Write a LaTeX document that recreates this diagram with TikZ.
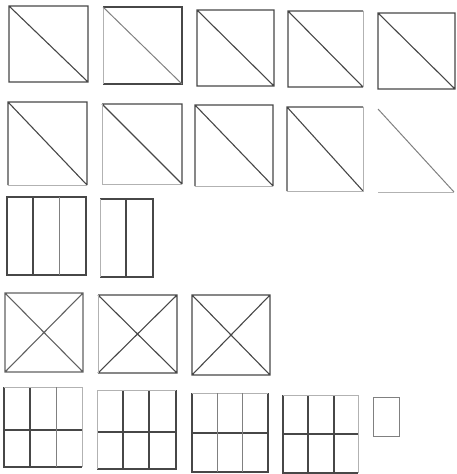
\documentclass[tikz,border=0pt]{standalone}
\begin{document}
\begin{tikzpicture}[x=1pt,y=-1pt,
  dk/.style={draw=black!72,line width=1.1pt},
  lt/.style={draw=black!30,line width=1pt},
  md/.style={draw=black!50,line width=1pt}]
\useasboundingbox (0,0) rectangle (456,474);
% Row 1
\draw[dk] (9,6) rectangle (88,82) (9,6) -- (88,82);
\draw[dk] (103,7) -- (182,7) -- (182,84) -- (103,84);
\draw[lt] (103,7) -- (103,84);
\draw[md] (103,7) -- (182,84);
\draw[dk] (197,10) rectangle (274,86) (197,10) -- (274,86);
\draw[dk] (363,11) -- (288,11) -- (288,87) -- (363,87) (288,11) -- (363,87);
\draw[lt] (363,11) -- (363,87);
\draw[dk] (378,13) rectangle (455,89) (378,13) -- (455,89);
% Row 2
\draw[dk] (8,185) -- (8,102) -- (87,102) -- (87,185) (8,102) -- (87,185);
\draw[lt] (8,185) -- (87,185);
\draw[dk] (102,104) -- (182,104) -- (182,184) (102,104) -- (182,184);
\draw[lt] (102,104) -- (102,184) -- (182,184);
\draw[dk] (195,186) -- (195,105) -- (273,105) -- (273,186) (195,105) -- (273,186);
\draw[lt] (195,186) -- (273,186);
\draw[dk] (363,107) -- (287,107) -- (287,191) (287,107) -- (363,191);
\draw[lt] (363,107) -- (363,191) -- (287,191);
\draw[md] (378,109) -- (454,192);
\draw[lt] (378,192) -- (454,192);
% Row 3
\draw[dk] (7,197) rectangle (86,275) (33,197) -- (33,275);
\draw[md] (59,197) -- (59,275);
\draw[dk] (100,199) -- (153,199) -- (153,277) -- (100,277) (126,199) -- (126,277);
\draw[lt] (100,199) -- (100,277);
% Row 4
\draw[draw=black!62,line width=1.1pt] (5,293) rectangle (83,372) (5,293) -- (83,372) (83,293) -- (5,372);
\draw[dk] (98,295) -- (177,295) -- (177,373) -- (98,373) (98,295) -- (177,373) (177,295) -- (98,373);
\draw[lt] (98,295) -- (98,373);
\draw[dk] (192,295) rectangle (270,375) (192,295) -- (270,375) (270,295) -- (192,375);
% Row 5
\draw[dk] (4,387) -- (4,467) -- (82,467) (30,387) -- (30,467) (4,430) -- (82,430);
\draw[lt] (4,387) -- (82,387) -- (82,467);
\draw[md] (56,387) -- (56,467);
\draw[dk] (176,390) -- (176,469) -- (97,469) (123,390) -- (123,469) (149,390) -- (149,469) (97,432) -- (176,432);
\draw[lt] (97,469) -- (97,390) -- (176,390);
\draw[dk] (192,393) -- (192,472) -- (268,472) -- (268,393) (192,433) -- (268,433);
\draw[lt] (192,393) -- (268,393);
\draw[md] (217,393) -- (217,472) (242,393) -- (242,472);
\draw[dk] (283,395) -- (283,473) -- (358,473) (308,395) -- (308,473) (334,395) -- (334,473) (283,434) -- (358,434);
\draw[lt] (283,395) -- (358,395) -- (358,473);
\draw[md] (373,397) rectangle (399,436);
\end{tikzpicture}
\end{document}
